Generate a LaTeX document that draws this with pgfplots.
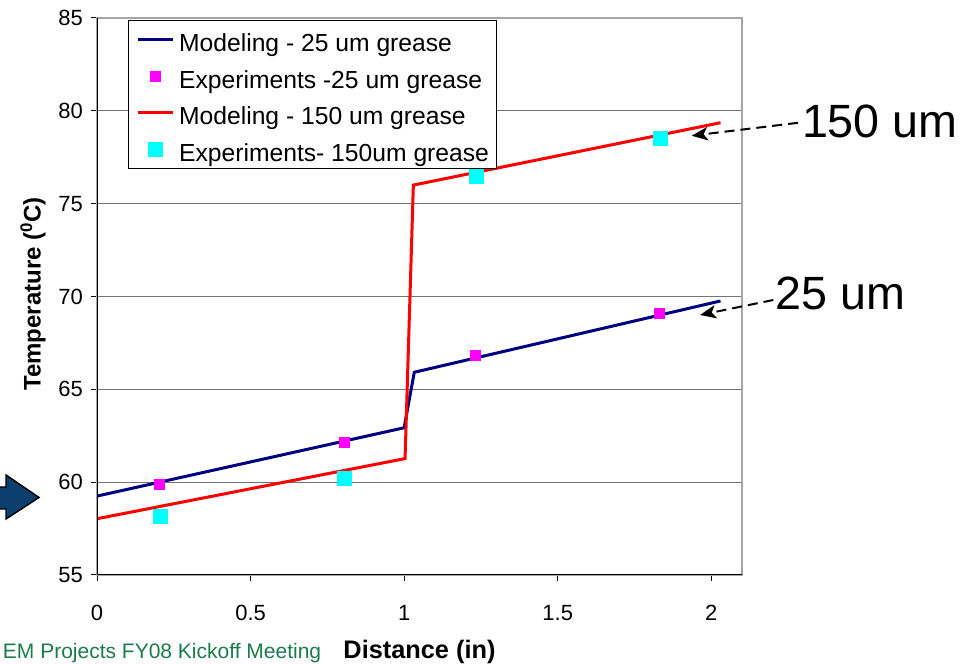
\documentclass[border=0pt]{standalone}
\usepackage{fontspec}
\setmainfont{Liberation Sans}
\usepackage{pgfplots}
\pgfplotsset{compat=1.18}
\usetikzlibrary{arrows.meta}

\definecolor{modblue}{HTML}{000080}
\definecolor{modred}{HTML}{FF0000}
\definecolor{expmag}{HTML}{FF00FF}
\definecolor{expcyan}{HTML}{00FFFF}
\definecolor{arrowblue}{HTML}{0B406E}
\definecolor{footgreen}{HTML}{1B7B4B}

\begin{document}
\begin{tikzpicture}
% page = 972 x 664 px, 1px = 0.75pt
\clip (0,0) rectangle (729pt,498pt);

\begin{axis}[
    at={(72.75pt,66.75pt)}, anchor=south west,
    scale only axis, width=483.75pt, height=417.75pt,
    xmin=0, xmax=2.1, ymin=55, ymax=85,
    xtick={0,0.5,1,1.5,2}, xticklabels={0,0.5,1,1.5,2},
    ytick={55,60,...,85},
    ymajorgrids, grid style={black!55, line width=0.75pt},
    axis line style={draw=black!35, line width=0.9pt},
    tick align=outside, xtick pos=bottom, ytick pos=left,
    major tick length=4.5pt, tick style={black, line width=0.75pt},
    ticklabel style={font=\fontsize{16.5}{19}\selectfont},
    xticklabel style={yshift=-14.6pt},
    yticklabel style={xshift=-2.6pt},
    /pgf/number format/assume math mode=true,
    xlabel={Distance (in)},
    ylabel={Temperature (\textsuperscript{0}C)},
    every axis x label/.style={at={(axis description cs:0.5,-0.1494)}, anchor=base,
        font=\fontsize{19}{22}\selectfont\bfseries},
    every axis y label/.style={at={(axis description cs:-0.0992,0.5046)}, anchor=center,
        rotate=90, font=\fontsize{18}{21}\selectfont\bfseries},
    legend cell align=left,
    legend style={at={(0.048,0.9964)}, anchor=north west, draw=black, line width=0.75pt,
        fill=white, inner xsep=6pt, inner ysep=1.25pt,
        font=\fontsize{18.5}{22}\selectfont,
        nodes={inner xsep=0pt, inner ysep=0pt, text height=22.15pt, text depth=4pt},
        row sep=1.25pt, column sep=3.75pt},
]
\addplot[modblue, line width=2.25pt,
    legend image code/.code={\draw[modblue, line width=2.25pt] (0pt,0pt)--(26pt,0pt);}]
    coordinates {(0,59.25) (1.0,62.93) (1.033,65.92) (2.03,69.76)};
\addlegendentry{Modeling - 25 um grease}
\addplot[expmag, only marks, mark=square*, mark size=3.75pt, mark options={fill=expmag, draw=expmag, line width=0pt},
    legend image code/.code={\fill[expmag] (9.25pt,-3.75pt) rectangle (16.75pt,3.75pt);}]
    coordinates {(0.205,59.85) (0.805,62.15) (1.233,66.82) (1.83,69.11)};
\addlegendentry{Experiments -25 um grease}
\addplot[modred, line width=2.25pt,
    legend image code/.code={\draw[modred, line width=2.25pt] (0pt,0pt)--(26pt,0pt);}]
    coordinates {(0,58.03) (1.003,61.27) (1.03,76.0) (2.03,79.36)};
\addlegendentry{Modeling - 150 um grease}
\addplot[expcyan, only marks, mark=square*, mark size=5.25pt, mark options={fill=expcyan, draw=expcyan, line width=0pt},
    legend image code/.code={\fill[expcyan] (7.75pt,-5.25pt) rectangle (18.25pt,5.25pt);}]
    coordinates {(0.207,58.15) (0.805,60.19) (1.237,76.49) (1.834,78.52)};
\addlegendentry{Experiments- 150um grease}
\draw[black, line width=0.75pt] (rel axis cs:0,1) -- (rel axis cs:0,0) -- (rel axis cs:1,0);
\end{axis}

% annotations
\draw[black, line width=1.5pt, dash pattern=on 7.5pt off 4.5pt,
      -{Stealth[length=12pt, width=10pt, inset=3pt]}] (598.5pt,405.9pt) -- (518.8pt,396.2pt);
\node[anchor=base west, inner sep=0pt, font=\fontsize{35}{40}\selectfont] at (601.3pt,394.5pt) {150 um};
\draw[black, line width=1.5pt, dash pattern=on 7.5pt off 4.5pt,
      -{Stealth[length=12pt, width=10pt, inset=3pt]}] (580pt,273pt) -- (525pt,261.75pt);
\node[anchor=base west, inner sep=0pt, font=\fontsize{35}{40}\selectfont] at (581.25pt,265.5pt) {25 um};

% block arrow at left
\filldraw[fill=arrowblue, draw=black, line width=1.1pt]
    (-8pt,132.75pt) -- (4.5pt,132.75pt) -- (4.5pt,141.75pt) -- (29.25pt,124.9pt)
    -- (4.5pt,108.75pt) -- (4.5pt,116.25pt) -- (-8pt,116.25pt) -- cycle;

% footer
\node[anchor=base west, inner sep=0pt, text=footgreen, font=\fontsize{15.75}{18}\selectfont]
    at (2pt,3.8pt) {EM Projects FY08 Kickoff Meeting};
\end{tikzpicture}
\end{document}
